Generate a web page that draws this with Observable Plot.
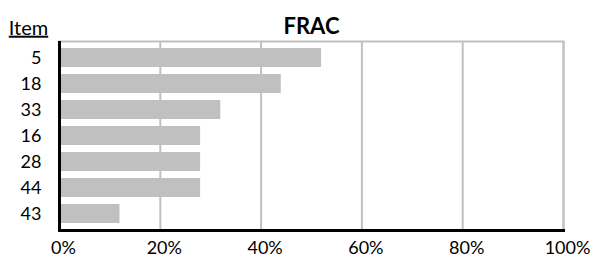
<!DOCTYPE html>
<html><head>
<meta charset="utf-8">
<script src="https://cdn.jsdelivr.net/npm/d3@7"></script>
<script src="https://cdn.jsdelivr.net/npm/@observablehq/plot@0.6"></script>
<style>body{margin:0;background:#fff}</style>
</head><body><div id="chart"></div>
<script>
const items = ["5","18","33","16","28","44","43"];
const fracs = [0.52,0.44,0.32,0.28,0.28,0.28,0.12];
const xTicks = [0,0.2,0.4,0.6,0.8,1];
const title = "FRAC";
const yLabel = "Item";
const data = items.map((item,i)=>({item, frac: fracs[i]}));
const chart = Plot.plot({
  width:595, height:261,
  marginLeft:59, marginRight:32, marginTop:41, marginBottom:31,
  style:{fontFamily:"Lato", fontSize:"18px", color:"#000", background:"#fff"},
  x:{domain:[0,1]},
  y:{domain:items, paddingInner:0.26, paddingOuter:0.15},
  marks:[
    Plot.frame({stroke:"#c0c0c0", strokeWidth:2}),
    Plot.ruleX(xTicks, {stroke:"#c0c0c0", strokeWidth:2}),
    Plot.barX(data, {x:"frac", y:"item", fill:"#c0c0c0"}),
    Plot.ruleX([0], {stroke:"#000", strokeWidth:3}),
    Plot.frame({anchor:"bottom", stroke:"#000", strokeWidth:3}),
    Plot.axisX({ticks:xTicks, tickFormat:d3.format(".0%"), tickSize:0, tickPadding:11, dx:4, label:null}),
    Plot.axisY({tickSize:0, tickPadding:18, label:null}),
    Plot.text([title], {frameAnchor:"top", dy:-23, fontWeight:"bold", fontSize:22}),
    Plot.text([yLabel], {frameAnchor:"top-left", dx:-31, dy:-21, textAnchor:"middle", fontSize:20})
  ]
});
d3.select(chart).selectAll("text").filter(function(){return this.textContent===yLabel;}).style("text-decoration","underline");
document.getElementById("chart").appendChild(chart);
</script>
</body></html>
